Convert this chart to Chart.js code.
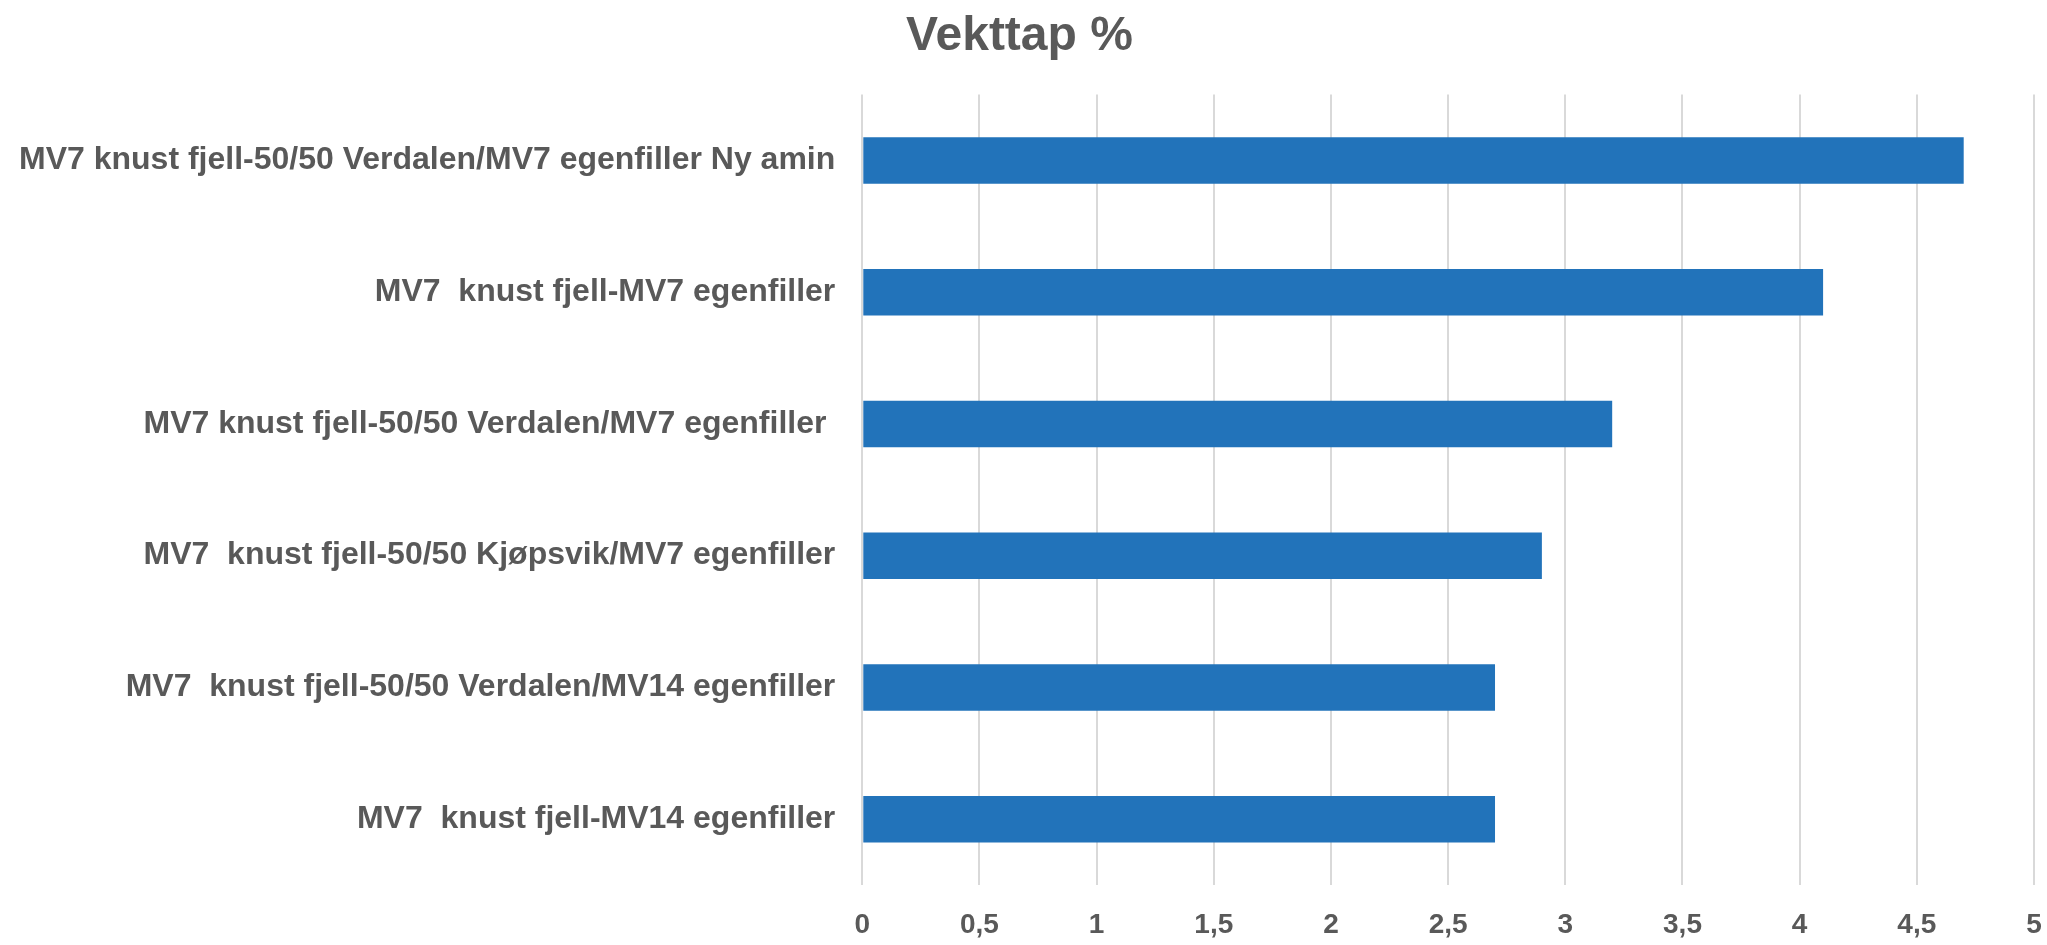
<!DOCTYPE html>
<html>
<head>
<meta charset="utf-8">
<script src="https://cdn.jsdelivr.net/npm/chart.js@4"></script>
<style>
  html, body { margin: 0; padding: 0; background: #ffffff; }
  #wrap { width: 2047px; height: 945px; }
</style>
</head>
<body>
<div id="wrap"><canvas id="chart"></canvas></div>
<script>
// Vekttap % - horizontal bar chart

const CATEGORIES = [
  "MV7 knust fjell-50/50 Verdalen/MV7 egenfiller Ny amin",
  "MV7  knust fjell-MV7 egenfiller",
  "MV7 knust fjell-50/50 Verdalen/MV7 egenfiller ",
  "MV7  knust fjell-50/50 Kjøpsvik/MV7 egenfiller",
  "MV7  knust fjell-50/50 Verdalen/MV14 egenfiller",
  "MV7  knust fjell-MV14 egenfiller",
];

const VEKTTAP = [4.7, 4.1, 3.2, 2.9, 2.7, 2.7];

const X_MIN = 0;
const X_MAX = 5;
const X_STEP = 0.5;

const TEXT_COLOR = "#595959";
const GRID_COLOR = "#d9d9d9";
const BAR_COLOR = "#2273ba";
const FONT = "'Liberation Sans', Arial, sans-serif";

new Chart(document.getElementById("chart"), {
  type: "bar",
  data: {
    labels: CATEGORIES,
    datasets: [{
      label: "Vekttap %",
      data: VEKTTAP,
      backgroundColor: BAR_COLOR,
      borderWidth: 0,
      barPercentage: 0.353,
      categoryPercentage: 1,
    }],
  },
  options: {
    indexAxis: "y",
    responsive: true,
    maintainAspectRatio: false,
    animation: false,
    layout: { padding: { left: -8, right: 0, top: 0, bottom: -20 } },
    plugins: {
      legend: { display: false },
      tooltip: { enabled: false },
      title: {
        display: true,
        text: "Vekttap %",
        color: TEXT_COLOR,
        font: { family: FONT, size: 48, weight: "bold", lineHeight: 1.2 },
        padding: { top: 8, bottom: 29 },
      },
    },
    scales: {
      x: {
        min: X_MIN,
        max: X_MAX,
        grid: { color: GRID_COLOR, lineWidth: 2, drawTicks: false },
        border: { display: false },
        afterFit: (scale) => {
          scale.paddingLeft = 0;
          scale.paddingRight = 13;
        },
        ticks: {
          stepSize: X_STEP,
          padding: 26,
          color: TEXT_COLOR,
          font: { family: FONT, size: 28, weight: "bold", lineHeight: 1 },
          callback: (v) => String(v).replace(".", ","),
        },
      },
      y: {
        grid: { display: false, drawTicks: false },
        border: { display: false },
        afterFit: (scale) => {
          scale.paddingTop = 0;
          scale.paddingBottom = 0;
        },
        ticks: {
          padding: 27,
          color: TEXT_COLOR,
          font: { family: FONT, size: 32, weight: "bold" },
        },
      },
    },
  },
});
</script>
</body>
</html>
